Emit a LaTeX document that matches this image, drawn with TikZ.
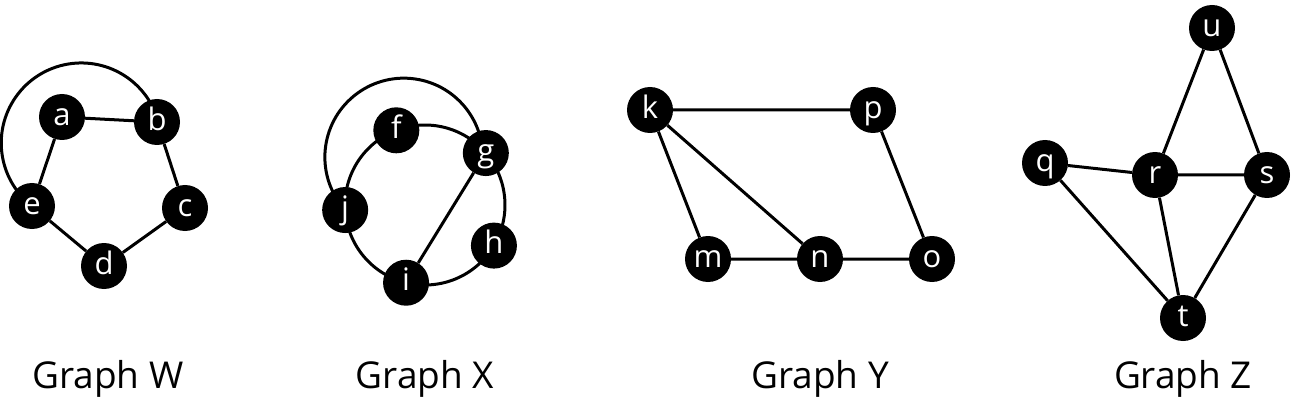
\documentclass[tikz,border=0pt]{standalone}
\usepackage{fontspec}
\setmainfont{Open Sans}
\usetikzlibrary{backgrounds}

\tikzset{vtx/.style={circle,fill=black,text=white,minimum size=46pt,inner sep=0pt,
    font=\fontsize{31}{31}\selectfont,text height=16.5pt,text depth=0pt},
  link/.style={line width=3pt},
  caption/.style={font=\fontsize{37}{37}\selectfont,anchor=base}}

\begin{document}
\begin{tikzpicture}[x=1pt,y=1pt]
  \useasboundingbox (0,0) rectangle (1291,405);
  % Graph W
  \node[vtx] (a) at (62,288) {a};
  \node[vtx] (b) at (157,283) {b};
  \node[vtx] (c) at (185,197) {c};
  \node[vtx] (d) at (104,139) {d};
  \node[vtx] (e) at (32,199) {e};
  % Graph X
  \coordinate (cX) at (425,200);
  \node[vtx] (f) at ([shift={(111:80)}]cX) {f};
  \node[vtx] (g) at ([shift={(40.5:80)}]cX) {g};
  \node[vtx] (h) at ([shift={(-30.5:80)}]cX) {h};
  \node[vtx] (i) at ([shift={(-103.7:80)}]cX) {i};
  \node[vtx] (j) at ([shift={(183.6:80)}]cX) {j};
  % Graph Y
  \node[vtx] (k) at (650,295) {k};
  \node[vtx] (p) at (873,295) {p};
  \node[vtx] (o) at (932,146) {o};
  \node[vtx] (n) at (820,146) {n};
  \node[vtx] (m) at (708,146) {m};
  % Graph Z
  \node[vtx] (u) at (1212,377) {u};
  \node[vtx] (q) at (1045,242) {q};
  \node[vtx] (r) at (1155,230) {r};
  \node[vtx] (s) at (1267,230) {s};
  \node[vtx] (t) at (1183,87) {t};

  \begin{scope}[on background layer={link}]
    \draw (a) -- (b) -- (c) -- (d) -- (e) -- (a);
    \draw (e.center) arc[start angle=232,end angle=14,radius=80];
    \draw (f.center) arc[start angle=111,end angle=40.5,radius=80];
    \draw (g.center) arc[start angle=40.5,end angle=-30.5,radius=80];
    \draw (h.center) arc[start angle=-30.5,end angle=-103.7,radius=80];
    \draw (i.center) arc[start angle=-103.7,end angle=-176.4,radius=80];
    \draw (j.center) arc[start angle=183.6,end angle=111,radius=80];
    \draw (g) -- (i);
    \draw (j.center) arc[start angle=222,delta angle=-218.5,radius=79];
    \draw (k) -- (p) -- (o) -- (n) -- (m) -- (k) -- (n);
    \draw (u) -- (r) -- (s) -- (u);
    \draw (q) -- (r) -- (t) -- (q);
    \draw (s) -- (t);
  \end{scope}

  \node[caption] (capW) at (108,17) {Graph W};
  \node[caption] (capX) at (425,17) {Graph X};
  \node[caption] (capY) at (820,17) {Graph Y};
  \node[caption] (capZ) at (1183,17) {Graph Z};
\end{tikzpicture}
\end{document}
